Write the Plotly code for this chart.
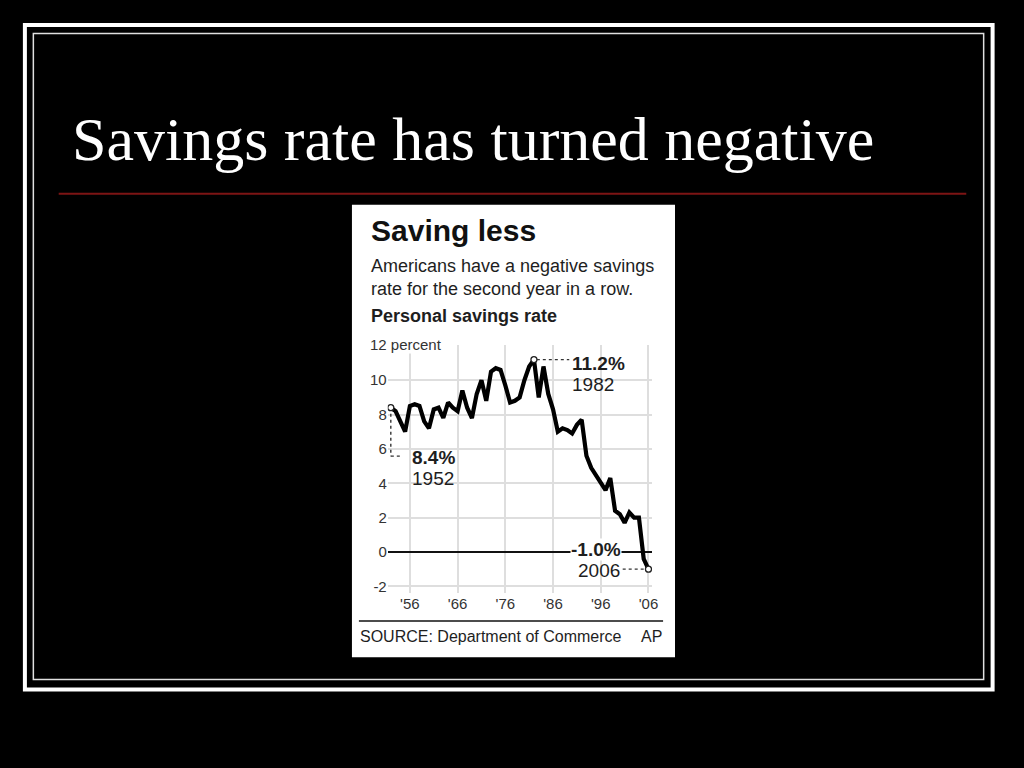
import plotly.graph_objects as go

# ---------------- data ----------------
years = list(range(1952, 2007))
savings_rate = [
    8.4, 8.2, 7.6, 7.0, 8.5, 8.6, 8.5, 7.6, 7.2, 8.3,   # 1952-1961
    8.4, 7.8, 8.7, 8.4, 8.2, 9.4, 8.4, 7.8, 9.2, 10.0,  # 1962-1971
    8.8, 10.5, 10.7, 10.6, 9.7, 8.7, 8.8, 9.0, 10.0, 10.8,  # 1972-1981
    11.2, 9.0, 10.8, 9.2, 8.3, 7.0, 7.2, 7.1, 6.9, 7.4,  # 1982-1991
    7.7, 5.6, 4.9, 4.5, 4.0, 3.6, 4.3, 2.4, 2.2, 1.7,   # 1992-2001
    2.3, 2.0, 2.0, -0.4, -1.0,                          # 2002-2006
]
x_tick_vals = [1956, 1966, 1976, 1986, 1996, 2006]
x_tick_text = ["'56", "'66", "'76", "'86", "'96", "'06"]
y_tick_vals = [-2, 0, 2, 4, 6, 8, 10, 12]
y_tick_text = ["-2", "0", "2", "4", "6", "8", "10", ""]
highlight_years = [1952, 1982, 2006]

slide_title = "Savings rate has turned negative"
chart_title = "Saving less"
chart_subtitle = "Americans have a negative savings<br>rate for the second year in a row."
chart_label = "Personal savings rate"
y_unit_label = "12 percent"
source_text = "SOURCE: Department of Commerce"
credit_text = "AP"

# ---------------- layout helpers (window pixel -> paper) ----------------
# The page body keeps its default 8px margin, so the figure is sized to fit
# exactly inside a 1024x768 window and the page background is made black.
PAGE_M = 8
W, H = 1024 - 2 * PAGE_M, 768 - 2 * PAGE_M
def px(x):
    return (x - PAGE_M) / W
def py(y):
    return 1 - (y - PAGE_M) / H

SANS = "Liberation Sans, Arial, Helvetica, sans-serif"
SERIF = "Liberation Serif, Times New Roman, serif"
TXT = "#1e1e1e"

hi_vals = [savings_rate[years.index(y)] for y in highlight_years]

fig = go.Figure()

fig.add_trace(go.Scatter(
    x=years, y=savings_rate, mode="lines",
    line=dict(color="#000000", width=4.2), hoverinfo="skip", showlegend=False,
))
fig.add_trace(go.Scatter(
    x=highlight_years, y=hi_vals, mode="markers",
    marker=dict(size=6, color="white", line=dict(color="#222", width=1.3)),
    hoverinfo="skip", showlegend=False,
))

# axis geometry: 4.8 px / year, 17.2 px / unit
x_px0, x_px1 = 390, 656
yr_px = 4.8
x0_year_px = 393.1
y_px_zero = 552.7
unit_px = 17.2
x_range = [1952 - (x0_year_px - x_px0) / yr_px, 2006 + (x_px1 - (x0_year_px + 54 * yr_px)) / yr_px]
y_top, y_bot = 12.05, -2.4
y_dom = [py(y_px_zero - y_bot * unit_px), py(y_px_zero - y_top * unit_px)]

fig.update_layout(
    width=W, height=H, autosize=False,
    margin=dict(l=0, r=0, t=0, b=0, pad=0),
    paper_bgcolor="black", plot_bgcolor="white",
    showlegend=False,
    xaxis=dict(
        domain=[px(x_px0), px(x_px1)], range=x_range,
        tickvals=x_tick_vals, ticktext=x_tick_text,
        showgrid=True, gridcolor="#dedede", gridwidth=1.5,
        zeroline=False, showline=False, ticks="",
        tickfont=dict(family=SANS, size=15, color="#333"),
        fixedrange=True,
    ),
    yaxis=dict(
        domain=y_dom, range=[y_bot, y_top],
        tickvals=y_tick_vals, ticktext=y_tick_text,
        showgrid=True, gridcolor="#dedede", gridwidth=1.5,
        zeroline=True, zerolinecolor="#111", zerolinewidth=1.5,
        showline=False, ticks="",
        tickfont=dict(family=SANS, size=15, color="#333"),
        fixedrange=True,
    ),
)

shapes = []
# white chart panel
shapes.append(dict(type="rect", xref="paper", yref="paper", layer="below",
                   x0=px(354), x1=px(679), y0=py(658), y1=py(205),
                   fillcolor="white", line=dict(width=0)))
# slide borders
shapes.append(dict(type="rect", xref="paper", yref="paper",
                   x0=px(25), x1=px(998.5), y0=py(690.5), y1=py(25),
                   line=dict(color="white", width=4)))
shapes.append(dict(type="rect", xref="paper", yref="paper",
                   x0=px(33.5), x1=px(989.5), y0=py(680.5), y1=py(33.5),
                   line=dict(color="#e0e0e0", width=1.5)))
# red title rule
shapes.append(dict(type="line", xref="paper", yref="paper",
                   x0=px(59), x1=px(972), y0=py(194), y1=py(194),
                   line=dict(color="#7d1414", width=2)))
# source rule
shapes.append(dict(type="line", xref="paper", yref="paper",
                   x0=px(361), x1=px(667), y0=py(621.7), y1=py(621.7),
                   line=dict(color="#111", width=1.5)))

# dotted leader lines (anchored on the data points)
dot = dict(color="#333", width=1.4, dash="dot")
y52, y82, y06 = hi_vals
shapes.append(dict(type="line", xref="x", yref="y", x0=1952, x1=1952,
                   y0=y52 - 0.35, y1=y52 - 2.82, line=dot))
shapes.append(dict(type="line", xref="x", yref="y", x0=1952, x1=1954.3,
                   y0=y52 - 2.82, y1=y52 - 2.82, line=dot))
shapes.append(dict(type="line", xref="x", yref="y", x0=1982.6, x1=1989.4,
                   y0=y82, y1=y82, line=dot))
shapes.append(dict(type="line", xref="x", yref="y", x0=2000.6, x1=2005.4,
                   y0=y06, y1=y06, line=dot))
fig.update_layout(shapes=shapes)

ann = []
def add_text(text, x, y, size, family=SANS, color=TXT, xanchor="left", weight="normal", bg=None, xref="paper", yref="paper"):
    d = dict(text=text, x=x, y=y, xref=xref, yref=yref, xanchor=xanchor, yanchor="middle",
             showarrow=False, align="left",
             font=dict(family=family, size=size, color=color, weight=weight))
    if bg:
        d["bgcolor"] = bg
        d["borderpad"] = 0
    ann.append(d)

add_text(slide_title, px(70), py(139), 62, family=SERIF, color="white")
add_text(chart_title, px(371), py(231), 30, color="#111", weight="bold")
add_text(chart_subtitle, px(371), py(278), 18)
add_text(chart_label, px(371), py(316), 18, weight="bold")
add_text(y_unit_label, px(371), py(345), 15, color="#333", bg="white")

# value callouts (data-anchored)
add_text("11.2%", 1989.6, y82 - 0.23, 19, weight="bold", xref="x", yref="y")
add_text(str(highlight_years[1]), 1989.6, y82 - 1.45, 19, xref="x", yref="y")
add_text("8.4%", 1956.0, y52 - 2.88, 19, weight="bold", xref="x", yref="y")
add_text(str(highlight_years[0]), 1956.0, y52 - 4.12, 19, xref="x", yref="y")
add_text("-1.0%", 2000.5, 0.15, 19, weight="bold", xref="x", yref="y", xanchor="right", bg="white")
add_text(str(highlight_years[2]), 2000.5, y06 - 0.05, 19, xref="x", yref="y", xanchor="right")

add_text(source_text, px(360), py(637), 16)
add_text(credit_text, px(667.5), py(637), 16, xanchor="right")

fig.update_layout(annotations=ann)

fig.write_html("out.html", config={"displayModeBar": False},
               post_script="document.body.style.background='black';"
                           "document.documentElement.style.background='black';")
